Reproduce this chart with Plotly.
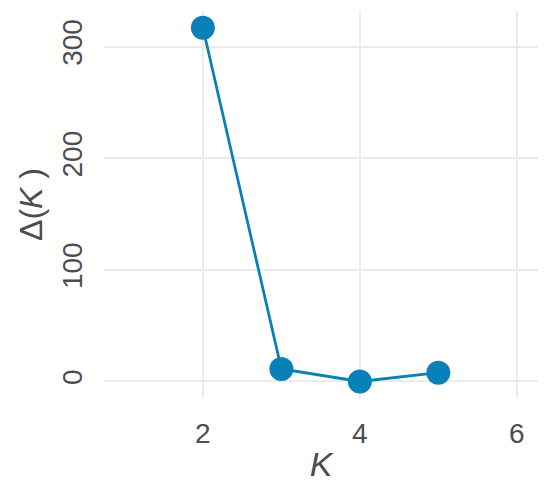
import plotly.graph_objects as go

K = [2, 3, 4, 5]
delta_K = [317, 11.2, 0, 7.9]
x_ticks = [2, 4, 6]
y_ticks = [0, 100, 200, 300]

color = "#0A80B8"
fig = go.Figure()
fig.add_trace(go.Scatter(
    x=K, y=delta_K, mode="lines+markers",
    line=dict(color=color, width=2.8),
    marker=dict(color=color, size=24),
    showlegend=False,
))

font_family = "Liberation Sans, Arial, sans-serif"
# page body has an 8px margin, so the figure is shrunk and shifted to match
fig.update_layout(
    width=542, height=479,
    margin=dict(l=96, r=12, t=3, b=89),
    plot_bgcolor="white", paper_bgcolor="white",
    font=dict(family=font_family, color="#4D4D4D", size=28),
)
fig.update_xaxes(
    range=[0.74, 6.27], tickvals=x_ticks, showgrid=True,
    gridcolor="#EBEBEB", gridwidth=1.5, zeroline=False, showline=False,
    ticks="outside", ticklen=10, tickcolor="white",
    tickfont=dict(size=28, color="#4D4D4D"),
    title=dict(text="<i>K</i>", font=dict(size=34, color="#4D4D4D"), standoff=4),
)
fig.update_yaxes(
    range=[-14.8, 332], tickvals=y_ticks, showgrid=True,
    gridcolor="#EBEBEB", gridwidth=1.5, zeroline=False, showline=False,
    ticks="outside", ticklen=10, tickcolor="white", tickangle=-90,
    tickfont=dict(size=28, color="#4D4D4D"),
    title=dict(text="Δ(<i>K</i> )", font=dict(size=32, color="#4D4D4D"), standoff=4),
)
fig.write_html("out.html")
